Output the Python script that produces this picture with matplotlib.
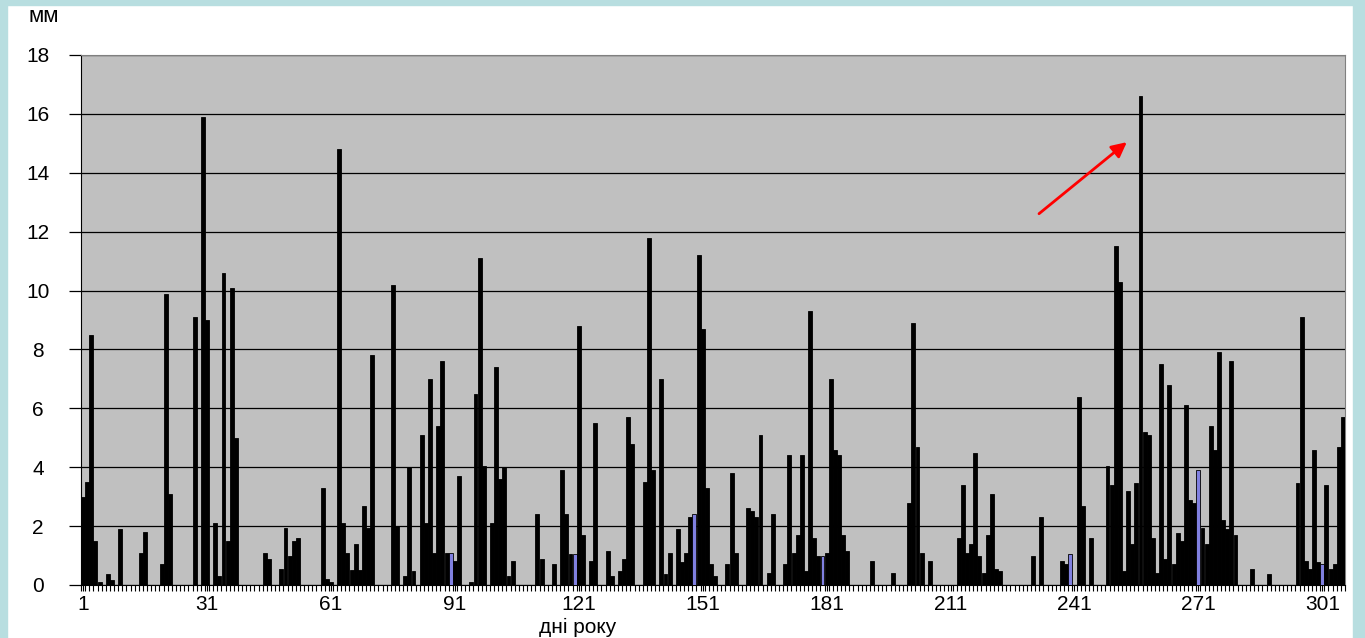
import numpy as np
import matplotlib.pyplot as plt
from matplotlib.patches import Rectangle

plt.rcParams['font.family'] = ['Liberation Sans', 'DejaVu Sans']

# daily precipitation, mm (days 1..306), ten days per row
rain_mm = [
    3.0, 3.5, 8.5, 1.5, 0.1, 0, 0.37, 0.17, 0, 1.9,
    0, 0, 0, 0, 1.1, 1.8, 0, 0, 0, 0.72,
    9.9, 3.1, 0, 0, 0, 0, 0, 9.1, 0, 15.9,
    9.0, 0, 2.1, 0.3, 10.6, 1.5, 10.1, 5.0, 0, 0,
    0, 0, 0, 0, 1.1, 0.9, 0, 0, 0.55, 1.95,
    1.0, 1.5, 1.6, 0, 0, 0, 0, 0, 3.3, 0.2,
    0.1, 0, 14.8, 2.1, 1.1, 0.5, 1.4, 0.5, 2.7, 1.95,
    7.8, 0, 0, 0, 0, 10.2, 2.0, 0, 0.3, 4.0,
    0.47, 0, 5.1, 2.1, 7.0, 1.1, 5.4, 7.6, 1.1, 1.1,
    0.8, 3.7, 0, 0, 0.1, 6.5, 11.1, 4.05, 0, 2.1,
    7.4, 3.6, 4.0, 0.3, 0.8, 0, 0, 0, 0, 0,
    2.4, 0.9, 0, 0, 0.72, 0, 3.9, 2.4, 1.06, 1.06,
    8.8, 1.7, 0, 0.8, 5.5, 0, 0, 1.15, 0.3, 0,
    0.47, 0.9, 5.7, 4.8, 0, 0, 3.5, 11.8, 3.9, 0,
    7.0, 0.37, 1.1, 0, 1.9, 0.77, 1.1, 2.3, 2.4, 11.2,
    8.7, 3.3, 0.72, 0.3, 0, 0, 0.72, 3.8, 1.1, 0,
    0, 2.6, 2.5, 2.3, 5.1, 0, 0.4, 2.4, 0, 0,
    0.72, 4.4, 1.1, 1.7, 4.4, 0.47, 9.3, 1.6, 1.0, 1.0,
    1.1, 7.0, 4.6, 4.4, 1.7, 1.15, 0, 0, 0, 0,
    0, 0.8, 0, 0, 0, 0, 0.4, 0, 0, 0,
    2.8, 8.9, 4.7, 1.1, 0, 0.8, 0, 0, 0, 0,
    0, 0, 1.6, 3.4, 1.1, 1.4, 4.5, 1.0, 0.4, 1.7,
    3.1, 0.55, 0.47, 0, 0, 0, 0, 0, 0, 0,
    1.0, 0, 2.3, 0, 0, 0, 0, 0.8, 0.72, 1.06,
    0, 6.4, 2.7, 0, 1.6, 0, 0, 0, 4.05, 3.4,
    11.5, 10.3, 0.47, 3.2, 1.4, 3.45, 16.6, 5.2, 5.1, 1.6,
    0.4, 7.5, 0.9, 6.8, 0.72, 1.76, 1.5, 6.1, 2.9, 2.8,
    3.9, 1.95, 1.4, 5.4, 4.6, 7.9, 2.2, 1.9, 7.6, 1.7,
    0, 0, 0, 0.55, 0, 0, 0, 0.37, 0, 0,
    0, 0, 0, 0, 3.45, 9.1, 0.8, 0.55, 4.6, 0.77,
    0.72, 3.4, 0.55, 0.72, 4.7, 5.7,
]
blue_days = [90, 120, 149, 180, 240, 271, 301]
tick_days = [1, 31, 61, 91, 121, 151, 181, 211, 241, 271, 301]
y_ticks = [0, 2, 4, 6, 8, 10, 12, 14, 16, 18]

days = np.arange(1, len(rain_mm) + 1)
rain = np.array(rain_mm)
colors = ['#8080e0' if d in blue_days else 'black' for d in days]

W, H = 1365, 638
fig = plt.figure(figsize=(W / 100, H / 100), dpi=100)

# light blue frame of the slide
frame_col = '#b8dee0'
fig.patches.append(Rectangle((0, 1 - 5 / H), 1, 5 / H, transform=fig.transFigure, color=frame_col, zorder=0))
fig.patches.append(Rectangle((0, 0), 7 / W, 1, transform=fig.transFigure, color=frame_col, zorder=0))
fig.patches.append(Rectangle((1 - 12 / W, 0), 12 / W, 1, transform=fig.transFigure, color=frame_col, zorder=0))

ax = fig.add_axes([81 / W, (H - 585) / H, (1345 - 81) / W, (585 - 55) / H])
ax.set_facecolor('#c0c0c0')

ax.bar(days, rain, width=0.95, color=colors, edgecolor='black', linewidth=0.6, zorder=3)

ax.set_xlim(0.5, len(rain_mm) + 0.5)
ax.set_ylim(0, 18)
ax.set_yticks(y_ticks)
ax.set_yticklabels([str(v) for v in y_ticks])
ax.set_xticks(tick_days)
ax.set_xticklabels([str(d) for d in tick_days])
ax.set_xticks(np.arange(0.5, len(rain_mm) + 1, 1), minor=True)

ax.grid(axis='y', color='black', linewidth=0.9, zorder=1)
ax.set_axisbelow(True)

ax.tick_params(axis='y', length=9, width=0.9, direction='out', pad=22, labelsize=15)
for lab in ax.get_yticklabels():
    lab.set_horizontalalignment('center')
ax.tick_params(axis='x', which='major', length=4, width=0.8, pad=3, labelsize=15)
ax.tick_params(axis='x', which='minor', length=4, width=0.8)

ax.spines['left'].set_color('black')
ax.spines['bottom'].set_color('black')
ax.spines['top'].set_color('#808080')
ax.spines['right'].set_color('#808080')

fig.text(44 / W, 1 - 17 / H, 'мм', ha='center', va='center', fontsize=16)
fig.text(578 / W, 1 - 627 / H, 'дні року', ha='center', va='center', fontsize=15)

# red arrow pointing at the yearly maximum
ax.annotate('', xy=(254.2, 15.1), xytext=(231.9, 12.55),
            arrowprops=dict(arrowstyle='-|>,head_length=0.9,head_width=0.45',
                            color='red', lw=2.0), zorder=5)

fig.savefig('out.png', dpi=100, facecolor='white')
